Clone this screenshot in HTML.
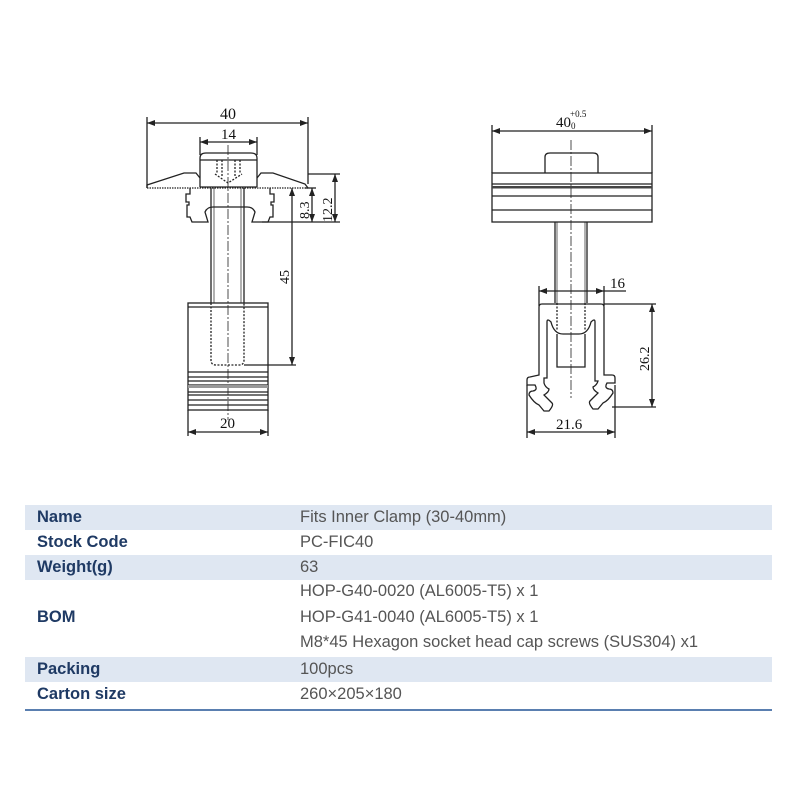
<!DOCTYPE html>
<html><head><meta charset="utf-8"><style>
body{margin:0;background:#fff;width:800px;height:800px;overflow:hidden;position:relative;font-family:"Liberation Sans",sans-serif}
svg{position:absolute;left:0;top:0}
.t{position:absolute;left:25px;width:747px}
.r{position:absolute;left:0;width:747px;height:25px}
.b{background:#dfe7f2}
.l{position:absolute;left:12px;color:#1f3a64;font-weight:bold;font-size:16.5px;line-height:19px}
.v{position:absolute;left:275px;color:#555;font-size:16.5px;line-height:19px}
</style></head><body>
<svg width="800" height="500" viewBox="0 0 800 500" fill="none" stroke="#222" stroke-width="1.3" font-family="Liberation Serif,serif">
<defs><marker id="a" markerWidth="8" markerHeight="6" refX="8" refY="3" orient="auto-start-reverse" markerUnits="userSpaceOnUse"><path d="M0,0 L8,3 L0,6 z" fill="#222" stroke="none"/></marker></defs>
<!-- LEFT -->
<g>
<line x1="147" y1="123" x2="308" y2="123" marker-start="url(#a)" marker-end="url(#a)"/>
<line x1="147" y1="117" x2="147" y2="188"/><line x1="308" y1="117" x2="308" y2="184"/>
<text x="220" y="119" font-size="16" fill="#111" stroke="none">40</text>
<line x1="200" y1="142" x2="257" y2="142" marker-start="url(#a)" marker-end="url(#a)"/>
<line x1="200" y1="137" x2="200" y2="155"/><line x1="257" y1="137" x2="257" y2="155"/>
<text x="221" y="139" font-size="15" fill="#111" stroke="none">14</text>
<path d="M200,187 L200,158 Q200,153 206,153 L251,153 Q257,153 257,158 L257,187"/>
<line x1="200" y1="160" x2="257" y2="160"/>
<path d="M217,160 v14 M222,160 v16 M235,160 v16 M240,160 v14 M215,174 L228,183 L242,174" stroke-dasharray="2,1.5"/>
<path d="M147,188 L147,185 L184,173 L196,173 L200,178 M257,178 L261,173 L273,173 L305,184 L308,188"/>
<line x1="147" y1="188" x2="308" y2="188" stroke-dasharray="1.5,1"/>
<line x1="200" y1="187" x2="257" y2="187"/>
<path d="M190,188 v6 h-4 v8 h3 v3 h-2 v12 h3 l2,5 l16,0 l-3,-10 q2,-5 8,-5 h34 q6,0 8,5 l-3,10 l16,0 l2,-5 h3 v-12 h-2 v-3 h3 v-8 h-4 v-6"/>
<line x1="262" y1="222" x2="296" y2="222"/>
<line x1="211" y1="188" x2="211" y2="303"/><line x1="244" y1="188" x2="244" y2="303"/>
<line x1="214" y1="188" x2="214" y2="303" stroke-width="0.7"/><line x1="241" y1="188" x2="241" y2="303" stroke-width="0.7"/>
<path d="M211,303 V360 Q211,365 216,365 H239 Q244,365 244,360 V303" stroke-dasharray="2,1.5"/>
<line x1="228" y1="145" x2="228" y2="420" stroke-dasharray="10,2,2,2" stroke-width="0.8"/>
<rect x="188" y="303" width="80" height="107"/>
<path d="M188,307 H268 M188,372 H268 M188,377 H268 M188,381 H268 M188,385 H268 M188,392 H268 M188,395 H268 M188,400 H268 M188,405 H268"/>
<rect x="188" y="385" width="80" height="3" fill="#999" stroke="none"/>
<line x1="244" y1="365" x2="296" y2="365"/>
<line x1="188" y1="410" x2="188" y2="436"/><line x1="268" y1="410" x2="268" y2="436"/>
<line x1="188" y1="432" x2="268" y2="432" marker-start="url(#a)" marker-end="url(#a)"/>
<text x="220" y="428" font-size="15" fill="#111" stroke="none">20</text>
<line x1="292" y1="188" x2="292" y2="365" marker-start="url(#a)" marker-end="url(#a)"/>
<text transform="translate(289,284) rotate(-90)" font-size="14" fill="#111" stroke="none">45</text>
<line x1="305" y1="188" x2="316" y2="188"/>
<line x1="312" y1="188" x2="312" y2="222" marker-start="url(#a)" marker-end="url(#a)"/>
<line x1="296" y1="222" x2="340" y2="222"/>
<text transform="translate(309,219) rotate(-90)" font-size="14" fill="#111" stroke="none">8.3</text>
<line x1="308" y1="174" x2="340" y2="174"/>
<line x1="335" y1="174" x2="335" y2="222" marker-start="url(#a)" marker-end="url(#a)"/>
<text transform="translate(332,222) rotate(-90)" font-size="14" fill="#111" stroke="none">12.2</text>
</g>
<!-- RIGHT -->
<g>
<line x1="492" y1="131" x2="652" y2="131" marker-start="url(#a)" marker-end="url(#a)"/>
<line x1="492" y1="125" x2="492" y2="173"/><line x1="652" y1="125" x2="652" y2="173"/>
<text x="556" y="127" font-size="15" fill="#111" stroke="none">40</text>
<text x="570" y="117" font-size="9" fill="#111" stroke="none">+0.5</text>
<text x="571" y="129" font-size="9" fill="#111" stroke="none">0</text>
<path d="M545,173 V157 Q545,153 550,153 H593 Q598,153 598,157 V173"/>
<rect x="492" y="173" width="160" height="49"/>
<path d="M492,184 H652 M492,196 H652 M492,210 H652"/>
<rect x="492" y="186" width="160" height="2.5" fill="#444" stroke="none"/>
<line x1="555" y1="222" x2="555" y2="303"/><line x1="587" y1="222" x2="587" y2="303"/>
<line x1="557" y1="222" x2="557" y2="303" stroke-width="0.7"/><line x1="585" y1="222" x2="585" y2="303" stroke-width="0.7"/>
<line x1="571" y1="140" x2="571" y2="398" stroke-dasharray="10,2,2,2" stroke-width="0.8"/>
<line x1="539" y1="291" x2="604" y2="291" marker-start="url(#a)" marker-end="url(#a)"/>
<line x1="539" y1="286" x2="539" y2="306"/><line x1="604" y1="286" x2="604" y2="306"/>
<line x1="604" y1="291" x2="626" y2="291"/>
<text x="610" y="288" font-size="15" fill="#111" stroke="none">16</text>
<path d="M539,375 V307 Q539,304 542,304 H601 Q604,304 604,307 V375 h8 q3,0 3,3 v5 h-8 q-3,5 2,6 q4,0 4,4 q-5,8 -10,10 l-5,6 h-5 q-5,-6 -3,-8 l8,-8 q-5,-3 -5,-6 q4,-2 5,-6 h-3 v-5 V322 q0,-4 -4,0 q-3,12 -12,12 H563 q-9,0 -12,-12 q-4,-4 -4,0 V378 h-3 v5 q1,4 5,6 q0,3 -5,6 l8,8 q2,2 -3,8 h-5 l-5,-6 q-5,-2 -10,-10 q0,-4 4,-4 q5,-1 2,-6 h-8 v-5 q0,-3 3,-3 z"/>
<path d="M557,303 v28 M585,303 v28" stroke-dasharray="2,1.5"/>
<path d="M557,334 V367 H585 V334"/>
<line x1="604" y1="304" x2="656" y2="304"/>
<line x1="612" y1="407" x2="656" y2="407"/>
<line x1="652" y1="304" x2="652" y2="407" marker-start="url(#a)" marker-end="url(#a)"/>
<text transform="translate(649,371) rotate(-90)" font-size="14" fill="#111" stroke="none">26.2</text>
<line x1="527" y1="385" x2="527" y2="438"/><line x1="615" y1="385" x2="615" y2="438"/>
<line x1="527" y1="432" x2="615" y2="432" marker-start="url(#a)" marker-end="url(#a)"/>
<text x="556" y="429" font-size="15" fill="#111" stroke="none">21.6</text>
</g>
</svg>
<div class="t" style="top:505px">
<div class="r b" style="top:0"><span class="l" style="top:3px">Name</span><span class="v" style="top:3px">Fits Inner Clamp (30-40mm)</span></div>
<div class="r" style="top:25px"><span class="l" style="top:3px">Stock Code</span><span class="v" style="top:3px">PC-FIC40</span></div>
<div class="r b" style="top:50px"><span class="l" style="top:3px">Weight(g)</span><span class="v" style="top:3px">63</span></div>
<div class="r" style="top:75px;height:77px"><span class="l" style="top:28px">BOM</span>
<span class="v" style="top:2px">HOP-G40-0020 (AL6005-T5) x 1</span>
<span class="v" style="top:28px">HOP-G41-0040 (AL6005-T5) x 1</span>
<span class="v" style="top:53px">M8*45 Hexagon socket head cap screws (SUS304) x1</span></div>
<div class="r b" style="top:152px"><span class="l" style="top:3px">Packing</span><span class="v" style="top:3px">100pcs</span></div>
<div class="r" style="top:177px"><span class="l" style="top:3px">Carton size</span><span class="v" style="top:3px">260×205×180</span></div>
<div style="position:absolute;top:204px;left:0;width:747px;height:2px;background:#5a7fb0"></div>
</div>
</body></html>
